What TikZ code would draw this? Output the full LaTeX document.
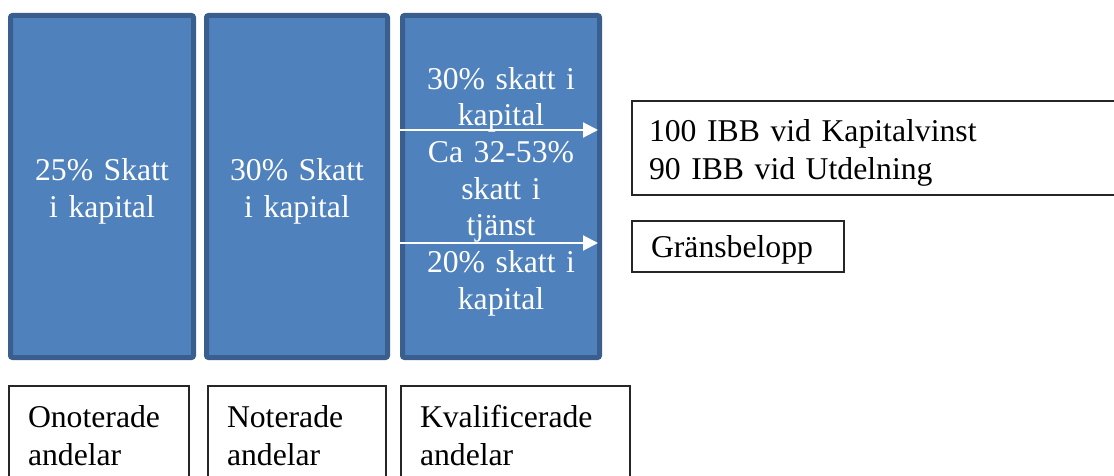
\documentclass[tikz,border=0pt]{standalone}
\usepackage{fontspec}
\setmainfont{Liberation Serif}
\usetikzlibrary{arrows.meta}
\definecolor{skattfyll}{HTML}{4F81BD}
\definecolor{skattkant}{HTML}{3A5F8E}

\begin{document}
\begin{tikzpicture}[x=1pt,y=1pt]
    \useasboundingbox (0,0) rectangle (1114,-476);
    \clip (0,0) rectangle (1114,-476);

    \tikzset{
        skatt/.style={draw=skattkant, line width=5pt, fill=skattfyll, rounded corners=2pt,
            text=white, align=center, outer sep=0pt, inner sep=0pt, minimum height=342pt,
            text height=32pt, font=\fontsize{31.7}{36.7}\selectfont},
        etikett/.style={draw=black!85, line width=1.4pt, anchor=north west, align=left,
            outer sep=0pt, inner xsep=19pt, inner ysep=0pt,
            font=\fontsize{31.7}{38}\selectfont},
        pil/.style={white, line width=2.2pt, shorten <=-2.5pt, shorten >=34pt,
            -{Triangle[length=15pt,width=15pt]}},
    }

    % kolumner med skattesatser
    \node[skatt, text width=183pt] (onoskatt) at (102,-186.5) {25\% Skatt\\i kapital};
    \node[skatt, text width=181pt] (notskatt) at (297,-186.5) {30\% Skatt\\i kapital};
    \node[skatt, text width=197pt] (kvaskatt) at (501,-186.5)
        {30\% skatt i\\kapital\\Ca 32-53\%\\skatt i\\tjänst\\20\% skatt i\\kapital};

    % andelstyper
    \foreach \nm/\x/\tw/\txt in {ono/9/142pt/Onoterade, not/208/140pt/Noterade, kva/401/191pt/Kvalificerade}
        \node[etikett, text width=\tw, minimum height=98pt, text height=24pt] (\nm) at (\x,-386) {\txt\\andelar};

    % gränser
    \node[etikett, text width=466pt, inner xsep=17pt, minimum height=94pt, text height=32.5pt] (ibb) at (632,-101)
        {100 IBB vid Kapitalvinst\\90 IBB vid Utdelning};
    \node[etikett, text width=174pt, minimum height=51pt, text height=28pt] (gb) at (632,-221) {Gränsbelopp};

    \draw[pil] (kvaskatt.west |- 0,-130) -- (ibb.west |- 0,-130);
    \draw[pil] (kvaskatt.west |- 0,-243) -- (gb.west |- 0,-243);
\end{tikzpicture}
\end{document}
